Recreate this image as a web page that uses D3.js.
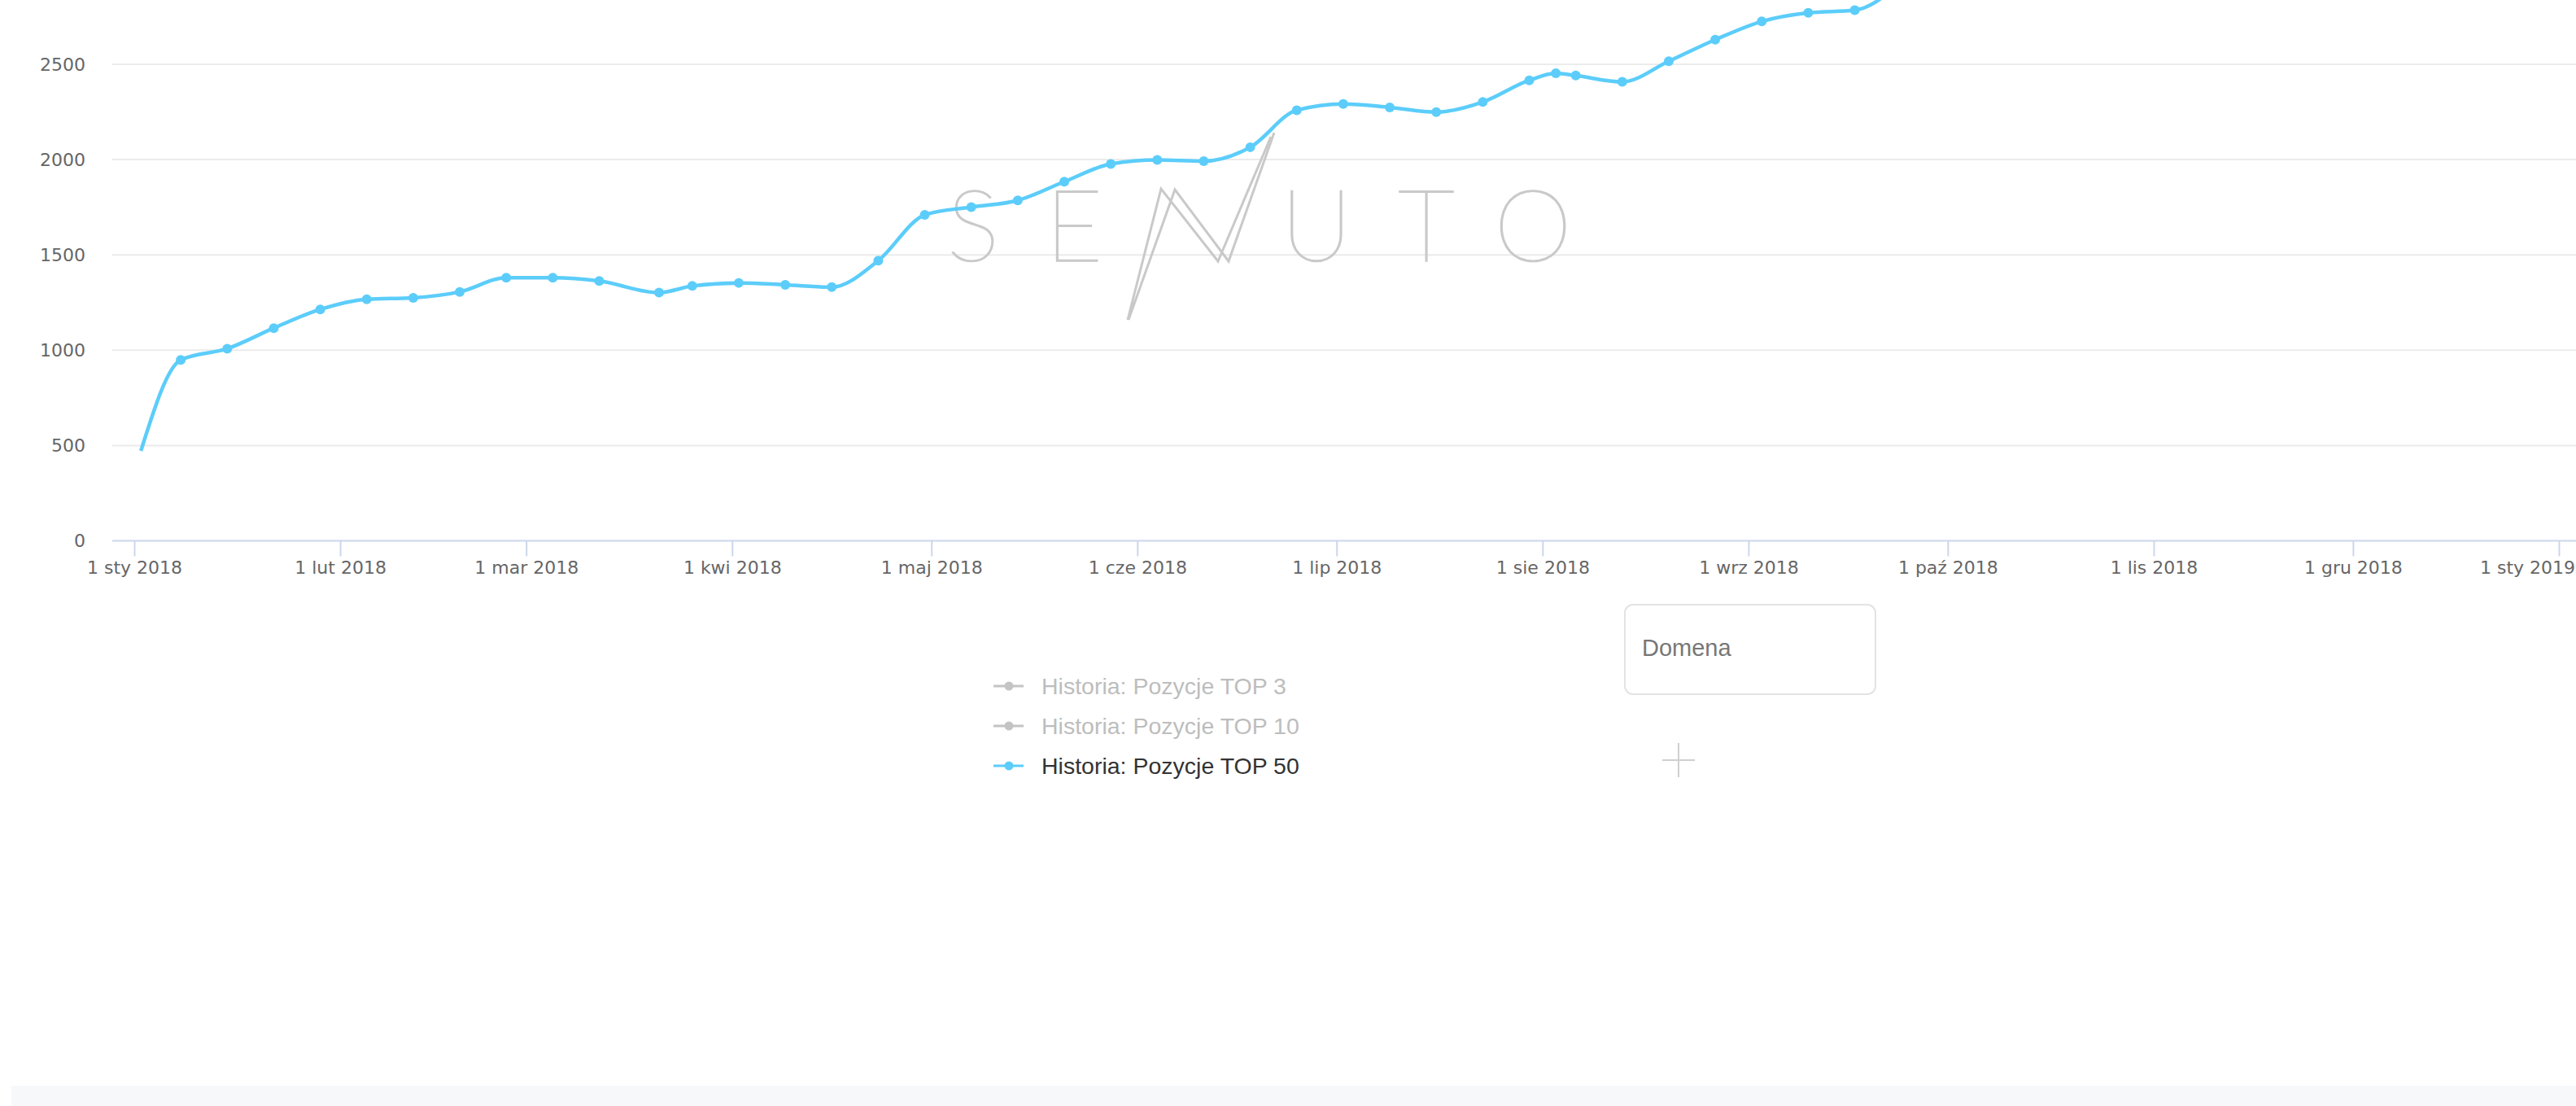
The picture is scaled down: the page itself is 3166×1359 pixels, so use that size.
<!DOCTYPE html>
<html>
<head>
  <meta charset="utf-8">
  <script src="https://d3js.org/d3.v7.min.js"></script>
  <style>
    body { margin: 0; background: #fff; overflow: hidden; }
  </style>
</head>
<body>
<script>
  // Data: weekly "TOP 50" position counts
  var dates = ["2018-01-02","2018-01-08","2018-01-15","2018-01-22","2018-01-29",
               "2018-02-05","2018-02-12","2018-02-19","2018-02-26","2018-03-05",
               "2018-03-12","2018-03-21","2018-03-26","2018-04-02","2018-04-09",
               "2018-04-16","2018-04-23","2018-04-30","2018-05-07","2018-05-14",
               "2018-05-21","2018-05-28","2018-06-04","2018-06-11","2018-06-18",
               "2018-06-25","2018-07-02","2018-07-09","2018-07-16","2018-07-23",
               "2018-07-30","2018-08-03","2018-08-06","2018-08-13","2018-08-20",
               "2018-08-27","2018-09-03","2018-09-10","2018-09-17","2018-09-24"];
  var top50 = [472, 949, 1008, 1116, 1214,
               1267, 1275, 1306, 1380, 1380,
               1363, 1302, 1337, 1353, 1343,
               1331, 1470, 1710, 1751, 1786,
               1884, 1977, 1998, 1992, 2065,
               2259, 2292, 2274, 2249, 2302,
               2416, 2453, 2441, 2408, 2516,
               2629, 2725, 2770, 2784, 2930];

  var yTicks = [0, 500, 1000, 1500, 2000, 2500];
  var monthLabels = ["sty","lut","mar","kwi","maj","cze","lip","sie","wrz","paź","lis","gru"];
  var legendNames = ["Historia: Pozycje TOP 3", "Historia: Pozycje TOP 10", "Historia: Pozycje TOP 50"];

  var width = 3166, height = 1359;
  var plotLeft = 138, plotRight = 3166;
  var blue = "#5ccdfa";

  var svg = d3.select("body").append("svg")
      .attr("width", width)
      .attr("height", height);

  var parse = d3.utcParse("%Y-%m-%d");
  var data = dates.map(function (d, i) { return { date: parse(d), value: top50[i] }; });

  var x = d3.scaleUtc()
      .domain([parse("2018-01-01"), parse("2019-01-01")])
      .range([165, 3145]);
  var y = d3.scaleLinear()
      .domain([0, 2500])
      .range([664.5, 79]);

  // horizontal grid
  svg.append("g").selectAll("line")
      .data(yTicks.filter(function (d) { return d > 0; }))
      .enter().append("line")
      .attr("x1", plotLeft).attr("x2", plotRight)
      .attr("y1", function (d) { return y(d); })
      .attr("y2", function (d) { return y(d); })
      .style("stroke", "#ebebeb")
      .style("stroke-width", 2);

  // y labels
  svg.append("g").selectAll("text")
      .data(yTicks)
      .enter().append("text")
      .attr("x", 105)
      .attr("y", function (d) { return y(d); })
      .attr("dy", "0.36em")
      .style("text-anchor", "end")
      .style("font-family", "DejaVu Sans, Verdana, sans-serif")
      .style("font-size", "22px")
      .style("fill", "#666")
      .text(function (d) { return d; });

  // x axis
  var xAxis = d3.axisBottom(x)
      .ticks(d3.utcMonth.every(1))
      .tickSize(19)
      .tickPadding(6)
      .tickFormat(function (d) { return "1 " + monthLabels[d.getUTCMonth()] + " " + d.getUTCFullYear(); });

  var gx = svg.append("g")
      .attr("transform", "translate(0," + y(0) + ")")
      .call(xAxis);
  gx.select(".domain").remove();
  gx.selectAll(".tick line").style("stroke", "#ccd6eb").style("stroke-width", 2);
  gx.selectAll(".tick text")
      .style("font-family", "DejaVu Sans, Verdana, sans-serif")
      .style("font-size", "22px")
      .style("fill", "#666");
  // last label is pushed inside the chart, like the original does
  gx.selectAll(".tick text")
      .filter(function (d) { return d.getUTCFullYear() === 2019; })
      .attr("x", -39);
  svg.append("line")
      .attr("x1", plotLeft).attr("x2", plotRight)
      .attr("y1", y(0)).attr("y2", y(0))
      .style("stroke", "#ccd6eb")
      .style("stroke-width", 2);

  // watermark
  var wm = svg.append("g").style("fill", "#c9c9c9").style("stroke", "#c9c9c9").style("stroke-width", 1.6);
  [["S", 1196], ["E", 1320], ["U", 1618], ["T", 1753], ["O", 1884]].forEach(function (l) {
    wm.append("text")
        .attr("x", l[1]).attr("y", 321)
        .style("text-anchor", "middle")
        .style("font-family", "Lato, Inter, Roboto, sans-serif")
        .style("font-weight", 100)
        .style("font-size", "122px")
        .text(l[0]);
  });
  var nPath = "M1386,393 L1427,232 L1497,321 L1562,168 M1387,393 L1444,233 L1510,321 L1566,163";
  svg.append("path")
      .attr("d", nPath)
      .style("fill", "none")
      .style("stroke", "#c9c9c9")
      .style("stroke-width", 3);

  // series
  var line = d3.line()
      .x(function (d) { return x(d.date); })
      .y(function (d) { return y(d.value); })
      .curve(d3.curveMonotoneX);

  svg.append("path")
      .datum(data)
      .attr("d", line)
      .style("fill", "none")
      .style("stroke", blue)
      .style("stroke-width", 4.5);

  svg.append("g").selectAll("circle")
      .data(data.slice(1))
      .enter().append("circle")
      .attr("cx", function (d) { return x(d.date); })
      .attr("cy", function (d) { return y(d.value); })
      .attr("r", 6)
      .style("fill", blue);

  // legend
  var legend = svg.append("g").attr("transform", "translate(1221,843)");
  var legColors = ["#c4c4c4", "#c4c4c4", blue];
  var legText = ["#bdbdbd", "#bdbdbd", "#333"];
  var items = legend.selectAll("g")
      .data(legendNames)
      .enter().append("g")
      .attr("transform", function (d, i) { return "translate(0," + (i * 49) + ")"; });
  items.append("line")
      .attr("x1", 0).attr("x2", 37).attr("y1", 0).attr("y2", 0)
      .style("stroke", function (d, i) { return legColors[i]; })
      .style("stroke-width", 3);
  items.append("circle")
      .attr("cx", 19).attr("cy", 0).attr("r", 5.5)
      .style("fill", function (d, i) { return legColors[i]; });
  items.append("text")
      .attr("x", 59).attr("y", 10)
      .style("font-family", "Liberation Sans, Arial, sans-serif")
      .style("font-size", "28.5px")
      .style("fill", function (d, i) { return legText[i]; })
      .text(function (d) { return d; });

  // "Domena" box and plus
  svg.append("rect")
      .attr("x", 1997).attr("y", 743).attr("width", 308).attr("height", 110)
      .attr("rx", 10).attr("ry", 10)
      .style("fill", "#fff")
      .style("stroke", "#e3e3e3")
      .style("stroke-width", 2);
  svg.append("text")
      .attr("x", 2018).attr("y", 806)
      .style("font-family", "Liberation Sans, Arial, sans-serif")
      .style("font-size", "29px")
      .style("fill", "#777")
      .text("Domena");
  svg.append("path")
      .attr("d", "M2043,934 H2083 M2063,913 V955")
      .style("stroke", "#d0d0d0")
      .style("stroke-width", 2);

  // bottom band
  svg.append("rect")
      .attr("x", 14).attr("y", 1334).attr("width", width - 14).attr("height", 25)
      .style("fill", "#f7f8fa");
</script>
</body>
</html>
